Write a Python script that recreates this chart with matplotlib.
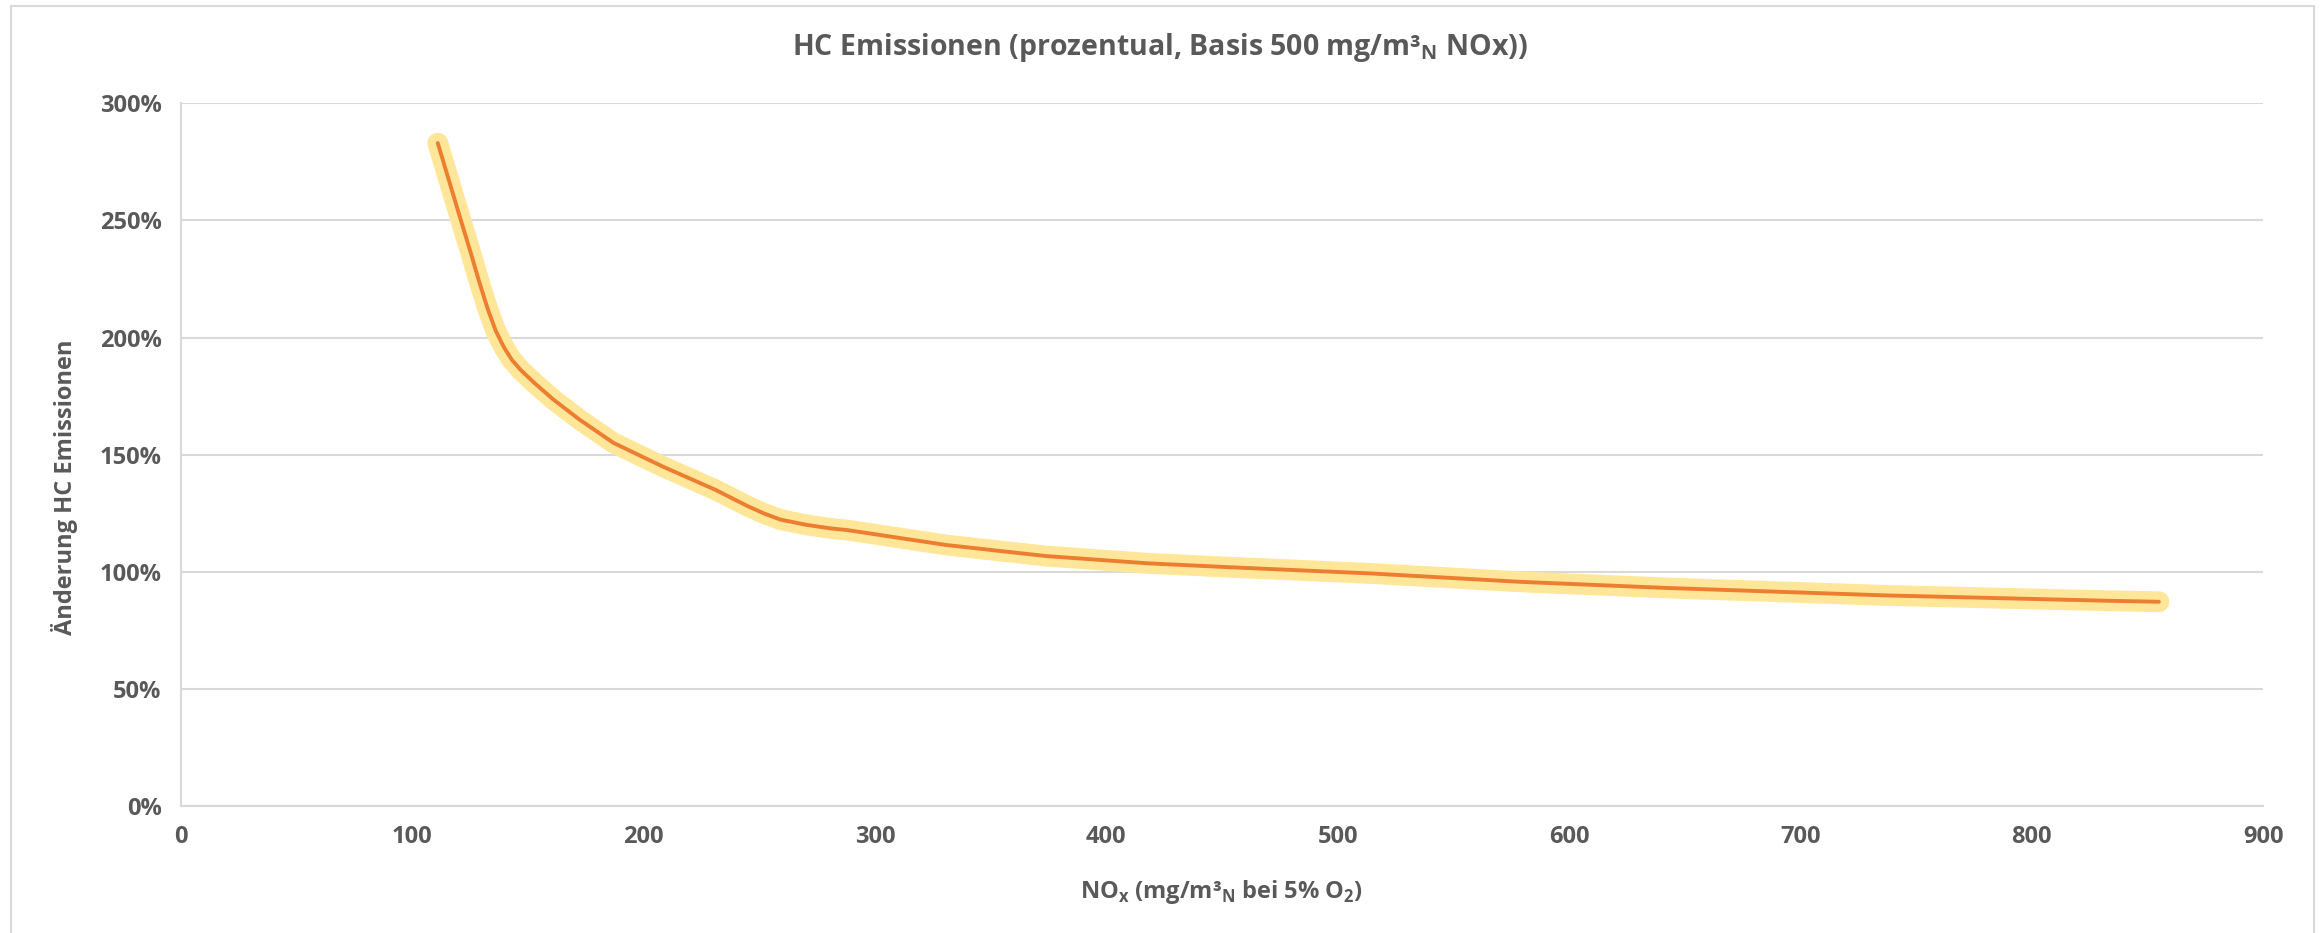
import matplotlib.pyplot as plt
from matplotlib.ticker import PercentFormatter, MultipleLocator
from matplotlib.lines import Line2D

# values
nox = [111, 116, 121, 125, 129, 132.5, 136, 139.5, 143, 147, 153, 161, 172.5,
       187, 208.5, 231, 245, 252, 259, 270.5, 281, 288, 331, 374, 418, 452,
       514, 579, 642, 737, 834, 855]
hc_change = [283, 266.5, 250, 237, 223.5, 212.5, 203, 196, 190.5, 186, 180.4,
             173.5, 164.8, 155, 144.8, 135, 128, 124.9, 122.3, 120, 118.5,
             117.8, 111.4, 106.7, 103.6, 102, 99.3, 95.7, 93.1, 89.9, 87.6, 87.2]

title = "HC Emissionen (prozentual, Basis 500 mg/m³$_\\mathregular{N}$ NOx))"
xlabel = "NO$_\\mathregular{x}$ (mg/m³$_\\mathregular{N}$ bei 5% O$_\\mathregular{2}$)"
ylabel = "Änderung HC Emissionen"

TEXT = "#595959"
GRID = "#D9D9D9"

plt.rcParams['font.family'] = ['Open Sans', 'DejaVu Sans']
plt.rcParams['font.weight'] = 'bold'

W, H = 2320, 933
fig = plt.figure(figsize=(W / 100, H / 100), dpi=100)
ax = fig.add_axes([181 / W, 1 - 806 / H, (2263 - 181) / W, (806 - 103.3) / H])

# glow + line
ax.plot(nox, hc_change, color="#FFE699", lw=15, solid_capstyle='round',
        solid_joinstyle='round', zorder=3)
ax.plot(nox, hc_change, color="#ED7D31", lw=2.8, solid_capstyle='round',
        solid_joinstyle='round', zorder=4)

ax.set_xlim(0, 900)
ax.set_ylim(0, 300)
ax.xaxis.set_major_locator(MultipleLocator(100))
ax.yaxis.set_major_locator(MultipleLocator(50))
ax.yaxis.set_major_formatter(PercentFormatter(xmax=100, decimals=0))
ax.grid(axis='y', color=GRID, lw=1.5, zorder=0)
ax.tick_params(length=0, labelsize=17, labelcolor=TEXT)
ax.tick_params(axis='y', pad=14)
ax.tick_params(axis='x', pad=14)
for lbl in ax.get_xticklabels() + ax.get_yticklabels():
    lbl.set_fontweight('bold')

for s in ['top', 'right']:
    ax.spines[s].set_visible(False)
for s in ['left', 'bottom']:
    ax.spines[s].set_color(GRID)
    ax.spines[s].set_linewidth(1.5)

fig.text(0.5, 1 - 47 / H, title, ha='center', va='center', fontsize=20.5,
         color=TEXT, fontweight='bold')
fig.text(1222 / W, 1 - 892 / H, xlabel, ha='center', va='center', fontsize=17,
         color=TEXT, fontweight='bold')
fig.text(65 / W, 1 - 487 / H, ylabel, ha='center', va='center', fontsize=17,
         color=TEXT, fontweight='bold', rotation=90)

# chart area border (left, top, right)
x0, x1, yt = 11 / W, 2314 / W, 1 - 5.5 / H
for xs, ys in [([x0, x0], [0, yt]), ([x0, x1], [yt, yt]), ([x1, x1], [yt, 0])]:
    fig.add_artist(Line2D(xs, ys, color=GRID, lw=1.5, transform=fig.transFigure))

fig.savefig("out.png", dpi=100, facecolor="white")
